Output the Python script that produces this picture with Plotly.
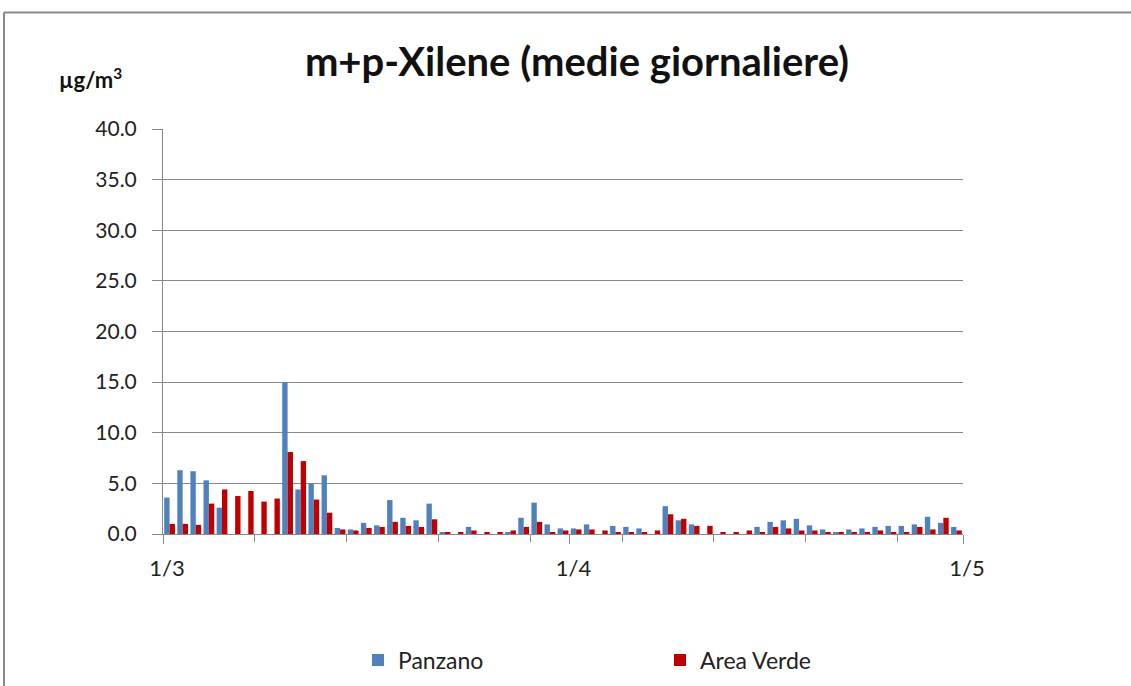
import plotly.graph_objects as go
import pandas as pd

# Categories: daily dates 1 March - 30 April
dates = pd.date_range("2013-03-01", "2013-04-30", freq="D")
tick_dates = ["2013-03-01", "2013-04-01", "2013-05-01"]
tick_labels = ["1/3", "1/4", "1/5"]

panzano = [3.6, 6.3, 6.2, 5.3, 2.6, None, None, None, None, 15.0,
           4.4, 5.0, 5.8, 0.6, 0.45, 1.1, 0.85, 3.35, 1.6, 1.35,
           3.0, 0.2, None, 0.7, None, None, 0.2, 1.6, 3.1, 0.95,
           0.55, 0.55, 0.95, None, 0.8, 0.7, 0.55, None, 2.75, 1.35,
           0.95, None, None, None, None, 0.7, 1.2, 1.35, 1.5, 0.85,
           0.45, 0.2, 0.45, 0.55, 0.7, 0.8, 0.8, 0.95, 1.7, 1.1,
           0.7]
area_verde = [1.0, 1.0, 0.9, 3.0, 4.4, 3.75, 4.25, 3.2, 3.5, 8.1,
              7.2, 3.4, 2.1, 0.45, 0.35, 0.6, 0.7, 1.2, 0.8, 0.7,
              1.45, 0.2, 0.2, 0.35, 0.2, 0.2, 0.35, 0.7, 1.2, 0.2,
              0.35, 0.45, 0.45, 0.35, 0.2, 0.2, 0.2, 0.35, 1.95, 1.5,
              0.8, 0.8, 0.2, 0.2, 0.35, 0.2, 0.7, 0.55, 0.35, 0.35,
              0.2, 0.2, 0.2, 0.2, 0.35, 0.2, 0.2, 0.7, 0.45, 1.6,
              0.35]

start = dates[0]
xpos = [(d - start).days for d in dates]
tickpos = [(pd.Timestamp(t) - start).days - 0.5 for t in tick_dates]

FONT = "Lato, 'Open Sans', sans-serif"
GRID = "#888888"

fig = go.Figure()
fig.add_trace(go.Bar(x=xpos, y=panzano, name="Panzano",
                     marker=dict(color="#4F81BD", line=dict(width=0))))
fig.add_trace(go.Bar(x=xpos, y=area_verde, name="Area Verde",
                     marker=dict(color="#C00000", line=dict(width=0))))

W, H = 1131, 686
L, R, T, B = 163, 963, 129, 534


def px(x):
    return (x - L) / (R - L)


def py(y):
    return (B - y) / (B - T)


fig.update_layout(
    width=W, height=H,
    margin=dict(l=L, r=W - R, t=T, b=H - B, autoexpand=False),
    paper_bgcolor="white", plot_bgcolor="white",
    barmode="group", bargap=0.18, bargroupgap=0,
    font=dict(family=FONT, color="#222222"),
    title=dict(text="<b>m+p-Xilene (medie giornaliere)</b>",
               font=dict(family=FONT, size=40, color="#111111"),
               x=577 / W, xanchor="center", xref="container",
               y=1 - 62 / H, yanchor="middle", yref="container"),
    xaxis=dict(range=[-0.5, 60.5], tickmode="array", tickvals=tickpos,
               ticktext=tick_labels, ticks="outside", ticklen=9,
               tickcolor=GRID, tickwidth=1, showline=True, linecolor=GRID,
               linewidth=1, showgrid=False, zeroline=False,
               tickfont=dict(family=FONT, size=22, color="#222222"),
               ticklabelshift=4, ticklabelstandoff=6,
               minor=dict(tick0=-0.5, dtick=7, ticks="outside", ticklen=7,
                          tickcolor=GRID, showgrid=False)),
    yaxis=dict(range=[0, 40], tickmode="linear", tick0=0, dtick=5,
               tickformat=".1f", ticks="outside", ticklen=10,
               tickcolor=GRID, showline=True, linecolor=GRID, linewidth=1,
               showgrid=True, gridcolor=GRID, gridwidth=1, zeroline=False,
               tickfont=dict(family=FONT, size=21, color="#222222"),
               ticklabelstandoff=11),
    legend=dict(orientation="h", x=px(358), xanchor="left",
                y=py(660), yanchor="middle", entrywidth=257,
                entrywidthmode="pixels",
                font=dict(family=FONT, size=23, color="#222222"),
                bgcolor="rgba(0,0,0,0)"),
    showlegend=True,
)

fig.add_annotation(text="<b>µg/m<sup>3</sup></b>", xref="paper", yref="paper",
                   x=px(90), y=py(79), xanchor="center", yanchor="middle",
                   showarrow=False, font=dict(family=FONT, size=22, color="#111111"))

# outer chart frame (top and left edges visible)
fig.add_shape(type="line", xref="paper", yref="paper",
              x0=px(4), x1=px(W + 5), y0=py(12.5), y1=py(12.5),
              line=dict(color="#8a8a8a", width=2))
fig.add_shape(type="line", xref="paper", yref="paper",
              x0=px(4), x1=px(4), y0=py(12.5), y1=py(H + 5),
              line=dict(color="#8a8a8a", width=2))

fig.write_html("out.html",
               config={"displayModeBar": False},
               post_script="document.body.style.margin='0';"
                           "document.body.style.overflow='hidden';")
